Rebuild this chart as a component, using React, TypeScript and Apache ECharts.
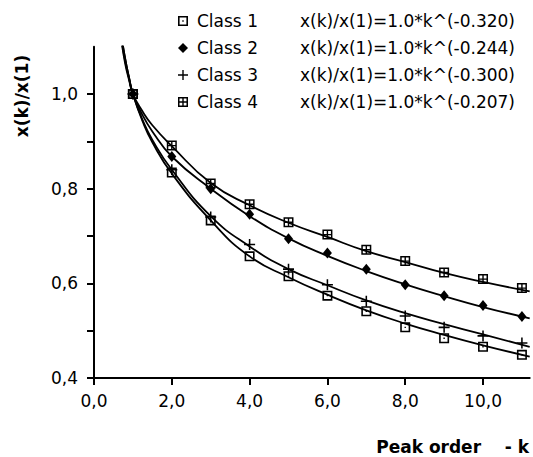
import React, { useEffect, useRef } from "react";
import * as echarts from "echarts";

// ---- data ----
const kPoints = [1, 2, 3, 4, 5, 6, 7, 8, 9, 10, 11];
const class1 = [1.0, 0.834, 0.733, 0.657, 0.615, 0.574, 0.541, 0.507, 0.484, 0.466, 0.449];
const class2 = [1.0, 0.868, 0.8, 0.746, 0.694, 0.664, 0.63, 0.597, 0.574, 0.553, 0.53];
const class3 = [1.0, 0.84, 0.74, 0.682, 0.63, 0.597, 0.562, 0.531, 0.507, 0.489, 0.474];
const class4 = [1.0, 0.891, 0.811, 0.767, 0.729, 0.703, 0.671, 0.647, 0.623, 0.609, 0.59];

const kCurve = [0.7, 0.8, 0.9, 1, 1.25, 1.5, 2, 3, 4, 5, 6, 7, 8, 9, 10, 11.2];
const curve1 = [1.125, 1.075, 1.035, 1.0, 0.942, 0.898, 0.832, 0.733, 0.657, 0.613, 0.576, 0.543, 0.515, 0.491, 0.469, 0.445];
const curve2 = [1.12, 1.07, 1.033, 1.0, 0.955, 0.921, 0.868, 0.8, 0.742, 0.695, 0.658, 0.626, 0.598, 0.573, 0.55, 0.526];
const curve3 = [1.125, 1.075, 1.035, 1.0, 0.945, 0.903, 0.84, 0.742, 0.678, 0.63, 0.596, 0.564, 0.537, 0.514, 0.492, 0.466];
const curve4 = [1.115, 1.065, 1.03, 1.0, 0.963, 0.934, 0.89, 0.812, 0.765, 0.728, 0.698, 0.668, 0.645, 0.622, 0.603, 0.583];

const seriesNames = ["Class 1", "Class 2", "Class 3", "Class 4"];
const equations = [
  "x(k)/x(1)=1.0*k^(-0.320)",
  "x(k)/x(1)=1.0*k^(-0.244)",
  "x(k)/x(1)=1.0*k^(-0.300)",
  "x(k)/x(1)=1.0*k^(-0.207)",
];
const xTickValues = [0, 2, 4, 6, 8, 10];
const yLabelValues = [0.4, 0.6, 0.8, 1.0];
const yTickValues = [0.4, 0.5, 0.6, 0.7, 0.8, 0.9, 1.0];

const FONT = "DejaVu Sans";

const SYM_SQUARE =
  "path://M0,0L10,0L10,10L0,10Z M1.6,1.6L1.6,8.4L8.4,8.4L8.4,1.6Z M4.3,4.3L5.7,4.3L5.7,5.7L4.3,5.7Z";
const SYM_PLUS = "path://M4.3,0L5.7,0L5.7,4.3L10,4.3L10,5.7L5.7,5.7L5.7,10L4.3,10L4.3,5.7L0,5.7L0,4.3L4.3,4.3Z";
const SYM_GRID =
  "path://M0,0L10,0L10,10L0,10Z M1.5,1.5L1.5,4.3L4.3,4.3L4.3,1.5Z M5.7,1.5L5.7,4.3L8.5,4.3L8.5,1.5Z M1.5,5.7L1.5,8.5L4.3,8.5L4.3,5.7Z M5.7,5.7L5.7,8.5L8.5,8.5L8.5,5.7Z";

const pair = (xs: number[], ys: number[]) => xs.map((x, i) => [x, ys[i]]);

export default function App() {
  const ref = useRef<HTMLDivElement>(null);
  useEffect(() => {
    document.body.style.margin = "0";
    if (!ref.current) return;
    const chart = echarts.init(ref.current, null, { renderer: "svg" });
    const curves = [curve1, curve2, curve3, curve4];
    const points = [class1, class2, class3, class4];
    const symbols = [SYM_SQUARE, "diamond", SYM_PLUS, SYM_GRID];
    const sizes: any[] = [10, [9, 11], 11, 10];
    const fmt = (v: number) => v.toFixed(1).replace(".", ",");
    chart.setOption({
      animation: false,
      backgroundColor: "#fff",
      grid: { left: 94, right: 3.3, top: 46.7, bottom: 79, containLabel: false },
      legend: {
        left: 178,
        top: 11,
        orient: "vertical",
        padding: 0,
        itemWidth: 10,
        itemHeight: 10,
        itemGap: 7,
        selectedMode: false,
        data: seriesNames,
        formatter: (name: string) => `{a|${name}}{b|${equations[seriesNames.indexOf(name)]}}`,
        textStyle: {
          fontFamily: FONT,
          fontSize: 17,
          color: "#000",
          lineHeight: 20,
          rich: {
            a: { width: 103, padding: [0, 0, 0, 4], fontFamily: FONT, fontSize: 17, color: "#000", lineHeight: 20 },
            b: { fontFamily: FONT, fontSize: 17, color: "#000", lineHeight: 20 },
          },
        },
      },
      xAxis: {
        type: "value",
        min: 0,
        max: 11.2,
        interval: 2,
        axisLine: { show: true, onZero: false, lineStyle: { color: "#000", width: 2 } },
        axisTick: { show: true, length: 7, customValues: xTickValues, lineStyle: { color: "#000", width: 2 } },
        axisLabel: {
          customValues: xTickValues,
          formatter: fmt,
          margin: 14,
          fontFamily: FONT,
          fontSize: 17,
          color: "#000",
        },
        splitLine: { show: false },
      },
      yAxis: {
        type: "value",
        min: 0.4,
        max: 1.1,
        interval: 0.2,
        axisLine: { show: true, onZero: false, lineStyle: { color: "#000", width: 2 } },
        axisTick: { show: true, length: 7, customValues: yTickValues, lineStyle: { color: "#000", width: 2 } },
        axisLabel: {
          customValues: yLabelValues,
          formatter: fmt,
          margin: 16,
          fontFamily: FONT,
          fontSize: 17,
          color: "#000",
        },
        splitLine: { show: false },
      },
      graphic: [
        {
          type: "text",
          x: 22,
          y: 96,
          rotation: Math.PI / 2,
          style: {
            text: "x(k)/x(1)",
            fontFamily: FONT,
            fontWeight: "bold",
            fontSize: 17,
            fill: "#000",
            align: "center",
            verticalAlign: "middle",
          },
        },
        {
          type: "text",
          x: 529,
          y: 447,
          style: {
            text: "Peak order    - k",
            fontFamily: FONT,
            fontWeight: "bold",
            fontSize: 17,
            fill: "#000",
            align: "right",
            verticalAlign: "middle",
          },
        },
      ],
      series: [
        ...curves.map((c, i) => ({
          type: "line",
          name: "fit " + (i + 1),
          data: pair(kCurve, c),
          smooth: true,
          showSymbol: false,
          symbol: "none",
          clip: true,
          silent: true,
          lineStyle: { color: "#000", width: 1.8 },
          z: 2,
        })),
        ...points.map((p, i) => ({
          type: "scatter",
          name: seriesNames[i],
          data: pair(kPoints, p),
          symbol: symbols[i],
          symbolSize: sizes[i],
          itemStyle: { color: "#000", opacity: 1 },
          z: 3,
        })),
      ],
    });
    return () => chart.dispose();
  }, []);
  return <div ref={ref} style={{ width: 533, height: 457 }} />;
}
